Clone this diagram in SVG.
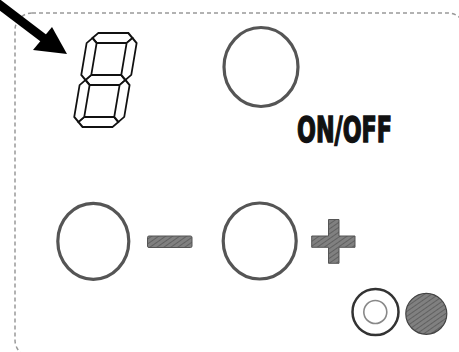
<svg xmlns="http://www.w3.org/2000/svg" width="459" height="352" viewBox="0 0 459 352">
<style>
.seg{fill:#fff;stroke:#111;stroke-width:1.8;stroke-linejoin:miter}
.ring{fill:none;stroke:#555;stroke-width:3.2}
.sym{fill:url(#hatch);stroke:#555;stroke-width:1}
.lbl{font-family:"Liberation Sans Narrow","DejaVu Sans Condensed","Liberation Sans",sans-serif;font-weight:bold;font-size:36px;fill:#111;stroke:#111;stroke-width:1.4}
</style>
<defs>
<pattern id="hatch" patternUnits="userSpaceOnUse" width="4" height="4" patternTransform="rotate(55)">
<rect width="4" height="4" fill="#808080"/>
<line x1="0" y1="0" x2="0" y2="4" stroke="#555" stroke-width="1.5"/>
</pattern>
</defs>
<rect x="15" y="13" width="450" height="344" rx="17" fill="none" stroke="#999" stroke-width="1.5" stroke-dasharray="4 3"/>
<g id="connectors">
<line x1="-4" y1="2" x2="46" y2="40" stroke="#000" stroke-width="9"/>
<polygon points="67,54 33,50 52,27" fill="#000"/>
</g>
<g id="digit" transform="translate(88.3,33) skewX(-9.5)">
<polygon class="seg" points="5,5 10,0 40,0 45,5 40,10 10,10"/>
<polygon class="seg" points="5,47 10,42 40,42 45,47 40,52 10,52"/>
<polygon class="seg" points="5,89 10,84 40,84 45,89 40,94 10,94"/>
<polygon class="seg" points="5,5 10,10 10,42 5,47 0,42 0,10"/>
<polygon class="seg" points="45,5 50,10 50,42 45,47 40,42 40,10"/>
<polygon class="seg" points="5,47 10,52 10,84 5,89 0,84 0,52"/>
<polygon class="seg" points="45,47 50,52 50,84 45,89 40,84 40,52"/>
</g>
<g id="power-button">
<ellipse class="ring" cx="261" cy="67" rx="37" ry="39.5"/>
</g>
<g id="onoff-label">
<text class="lbl" x="297" y="141.5" textLength="95" lengthAdjust="spacingAndGlyphs">ON/OFF</text>
</g>
<g id="minus-button">
<ellipse class="ring" cx="93.3" cy="241.3" rx="35.5" ry="38"/>
</g>
<g id="minus-symbol">
<rect class="sym" x="147.5" y="236" width="44.5" height="11.5" rx="1.5"/>
</g>
<g id="plus-button">
<ellipse class="ring" cx="259.7" cy="241" rx="36.5" ry="38"/>
</g>
<g id="plus-symbol">
<path class="sym" d="M328.5,219.5 H339 V236 H355 V247.3 H339 V263.3 H328.5 V247.3 H311.7 V236 H328.5 Z"/>
</g>
<g id="indicator-off">
<circle cx="375.5" cy="312" r="23" fill="#fff" stroke="#333" stroke-width="2.5"/>
<circle cx="375.3" cy="312" r="11.5" fill="none" stroke="#888" stroke-width="1.6"/>
</g>
<g id="indicator-on">
<circle cx="426.3" cy="313.8" r="20.5" fill="url(#hatch)" stroke="#444" stroke-width="1.2"/>
</g>
</svg>
